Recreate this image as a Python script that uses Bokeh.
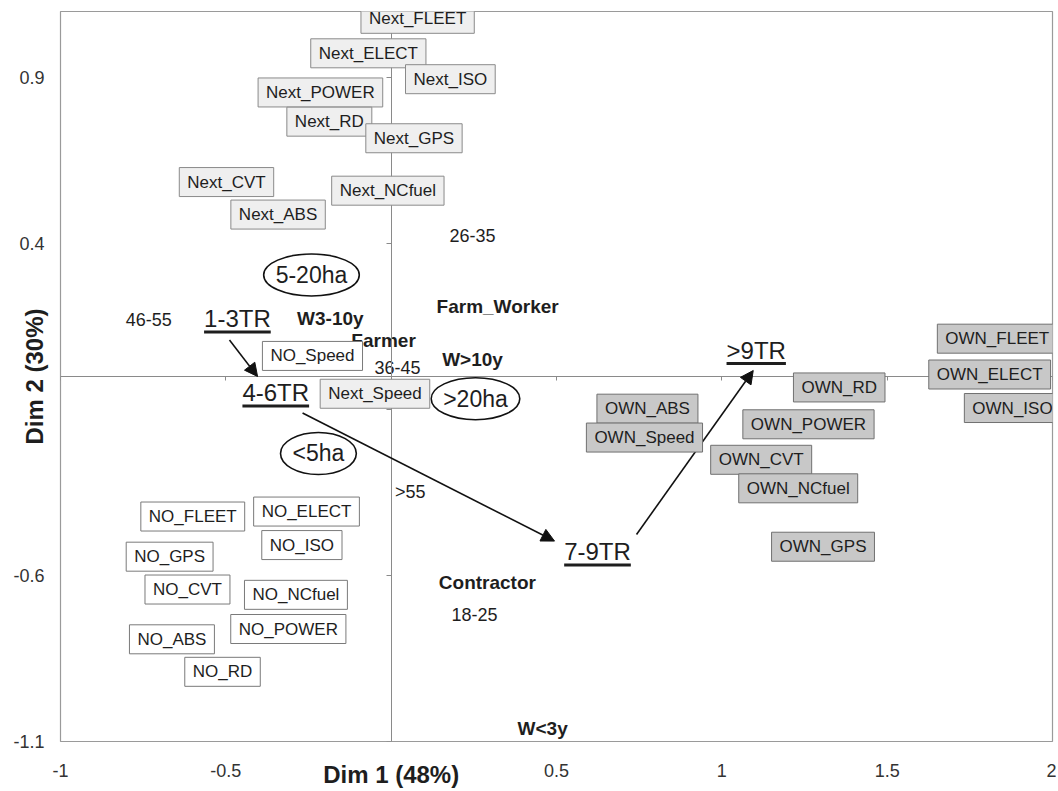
import math
from bokeh.plotting import figure
from bokeh.models import (Range1d, FixedTicker, LinearAxis, Label, Arrow,
                          NormalHead, ColumnDataSource)
from bokeh.core.properties import value
from bokeh.embed import file_html
from bokeh.resources import INLINE

FONT = "Liberation Sans"
INK = "#1e1e1e"

# ---------------- data ----------------
x_ticks = [-1, -0.5, 0.5, 1, 1.5, 2]
y_ticks = [-1.1, -0.6, 0.4, 0.9]
center_x_ticks = [-1, -0.5, 0.5, 1, 1.5, 2]
center_y_ticks = [-1.1, -0.6, -0.1, 0.4, 0.9]
x_title = "Dim 1 (48%)"
y_title = "Dim 2 (30%)"

# boxed category labels
box_labels = ["Next_FLEET", "Next_ELECT", "Next_ISO", "Next_POWER", "Next_RD",
              "Next_GPS", "Next_NCfuel", "Next_CVT", "Next_ABS", "Next_Speed",
              "NO_Speed", "NO_FLEET", "NO_ELECT", "NO_ISO", "NO_GPS", "NO_CVT",
              "NO_NCfuel", "NO_POWER", "NO_ABS", "NO_RD",
              "OWN_ABS", "OWN_Speed", "OWN_RD", "OWN_POWER", "OWN_CVT",
              "OWN_NCfuel", "OWN_GPS", "OWN_FLEET", "OWN_ELECT", "OWN_ISO"]
box_x = [0.080, -0.069, 0.179, -0.214, -0.187, 0.069, -0.010, -0.498, -0.342, -0.049,
         -0.238, -0.600, -0.256, -0.270, -0.670, -0.616, -0.288, -0.311, -0.663, -0.510,
         0.775, 0.766, 1.355, 1.262, 1.119, 1.231, 1.306, 1.833, 1.810, 1.879]
box_y = [1.078, 0.974, 0.896, 0.856, 0.768, 0.718, 0.560, 0.586, 0.488, -0.052,
         0.062, -0.422, -0.407, -0.508, -0.543, -0.642, -0.658, -0.761, -0.792, -0.890,
         -0.097, -0.184, -0.033, -0.144, -0.251, -0.337, -0.513, 0.114, 0.006, -0.095]
box_group = ["Next"] * 10 + ["NO"] * 10 + ["OWN"] * 10

# plain (age) labels
age_labels = ["26-35", "46-55", "36-45", ">55", "18-25"]
age_x = [0.246, -0.733, 0.019, 0.058, 0.252]
age_y = [0.424, 0.172, 0.027, -0.348, -0.716]

# bold labels
bold_labels = ["Farm_Worker", "W3-10y", "Farmer", "W>10y", "Contractor", "W<3y"]
bold_x = [0.322, -0.184, -0.023, 0.246, 0.291, 0.458]
bold_y = [0.211, 0.175, 0.110, 0.051, -0.621, -1.061]

# circled (farm size) labels
size_labels = ["5-20ha", ">20ha", "<5ha"]
size_x = [-0.241, 0.255, -0.220]
size_y = [0.306, -0.067, -0.232]

# underlined (number of tractors) labels
tr_labels = ["1-3TR", "4-6TR", ">9TR", "7-9TR"]
tr_x = [-0.465, -0.349, 1.104, 0.624]
tr_y = [0.134, -0.089, 0.039, -0.568]

# arrows between tractor-fleet classes
arr_x0 = [-0.489, -0.268, 0.742]
arr_y0 = [0.110, -0.110, -0.476]
arr_x1 = [-0.404, 0.494, 1.095]
arr_y1 = [0.000, -0.496, 0.018]

# ---------------- figure ----------------
p = figure(width=1056, height=790, x_range=Range1d(-1, 2), y_range=Range1d(-1.1, 1.1),
           output_backend="svg", toolbar_location=None,
           min_border_left=60, min_border_right=4, min_border_top=11, min_border_bottom=39)
p.grid.visible = False
p.outline_line_color = "#9a9a9a"
p.outline_line_width = 1.2
p.background_fill_color = "white"

for ax, ticks in ((p.xaxis[0], x_ticks), (p.yaxis[0], y_ticks)):
    ax.ticker = FixedTicker(ticks=ticks)
    ax.major_label_overrides = {t: f"{t:g}" for t in ticks}
    ax.axis_line_color = None
    ax.major_tick_line_color = None
    ax.minor_tick_line_color = None
    ax.major_label_text_font = FONT
    ax.major_label_text_font_size = "18px"
    ax.major_label_text_color = "#333333"
p.xaxis.major_label_standoff = 16
p.yaxis.major_label_standoff = 10

# y title (centred on the frame, which is centred on 0)
p.yaxis.axis_label = y_title
p.yaxis.axis_label_text_font = FONT
p.yaxis.axis_label_text_font_size = "24px"
p.yaxis.axis_label_text_font_style = "bold"
p.yaxis.axis_label_text_color = INK
p.yaxis.axis_label_standoff = -38

# x title placed at Dim1 = 0, on the tick-label line
title_ax = LinearAxis(ticker=FixedTicker(ticks=[0]), major_label_overrides={0: x_title},
                      axis_line_color=None, major_tick_line_color=None,
                      minor_tick_line_color=None, major_label_text_font=FONT,
                      major_label_text_font_size="24px", major_label_text_font_style="bold",
                      major_label_text_color=INK, major_label_standoff=-25)

# axes through the origin (tick marks only, no labels)
cx = LinearAxis(fixed_location=0, ticker=FixedTicker(ticks=center_x_ticks),
                major_label_overrides={t: "" for t in center_x_ticks},
                major_tick_out=4, major_tick_in=0, minor_tick_line_color=None,
                axis_line_color="#8a8a8a", major_tick_line_color="#8a8a8a")
cy = LinearAxis(fixed_location=0, ticker=FixedTicker(ticks=center_y_ticks),
                major_label_overrides={t: "" for t in center_y_ticks},
                major_tick_out=5, major_tick_in=0, minor_tick_line_color=None,
                axis_line_color="#8a8a8a", major_tick_line_color="#8a8a8a")
p.add_layout(title_ax, "below")
p.add_layout(cx, "below")
p.add_layout(cy, "left")

# arrows
arr_src = ColumnDataSource(dict(x0=arr_x0, y0=arr_y0, x1=arr_x1, y1=arr_y1))
p.add_layout(Arrow(end=NormalHead(size=13, fill_color="#111111", line_color="#111111"),
                   x_start="x0", y_start="y0", x_end="x1", y_end="y1", source=arr_src,
                   line_width=1.6, line_color="#111111"))

# boxed labels (with drop shadow)
styles = {"Next": ("#efefef", "#8a8a8a"), "NO": ("#ffffff", "#7a7a7a"),
          "OWN": ("#c8c8c8", "#707070")}
for t, x, y, g in zip(box_labels, box_x, box_y, box_group):
    fill, line = styles[g]
    p.add_layout(Label(x=x, y=y, text=t, x_offset=2, y_offset=-2, text_alpha=0,
                       text_font=FONT, text_font_size="17px", text_align="center",
                       text_baseline="middle", padding=(8, 5),
                       background_fill_color="#a0a0a0"))
    p.add_layout(Label(x=x, y=y, text=t, text_font=FONT, text_font_size="17px",
                       text_color=INK, text_align="center", text_baseline="middle",
                       padding=(8, 5), background_fill_color=fill,
                       border_line_color=line, border_line_width=1))

# plain labels
p.text(x=age_x, y=age_y, text=age_labels, text_font=value(FONT), text_font_size="18px",
       text_color=INK, text_align="center", text_baseline="middle")
p.text(x=bold_x, y=bold_y, text=bold_labels, text_font=value(FONT), text_font_size="19px",
       text_font_style="bold", text_color=INK, text_align="center", text_baseline="middle")

# approximate advance widths (em) of the glyphs used in circled / underlined labels
em = {"0": .556, "1": .556, "2": .556, "3": .556, "4": .556, "5": .556, "6": .556,
      "7": .556, "8": .556, "9": .556, "-": .333, "T": .611, "R": .722, ">": .584,
      "<": .584, "h": .556, "a": .556}

# circled labels
size_fs = 23
ell_w = [size_fs * sum(em.get(c, .556) for c in t) + 24 for t in size_labels]
p.ellipse(x=size_x, y=size_y, width=ell_w, height=42, width_units="screen",
          height_units="screen", fill_color=None, line_color="#111111", line_width=1.6)
p.text(x=size_x, y=size_y, text=size_labels, text_font=value(FONT),
       text_font_size=f"{size_fs}px", text_color=INK, text_align="center",
       text_baseline="middle")

# underlined labels
ul_size = [24 * sum(em.get(c, .556) for c in t) for t in tr_labels]
p.text(x=tr_x, y=tr_y, text=tr_labels, text_font=value(FONT), text_font_size="24px",
       text_color=INK, text_align="center", text_baseline="bottom")
p.scatter(x=tr_x, y=tr_y, marker="dash", size=ul_size, line_width=3, line_color=INK)

open("out.html", "w").write(file_html(p, INLINE))
